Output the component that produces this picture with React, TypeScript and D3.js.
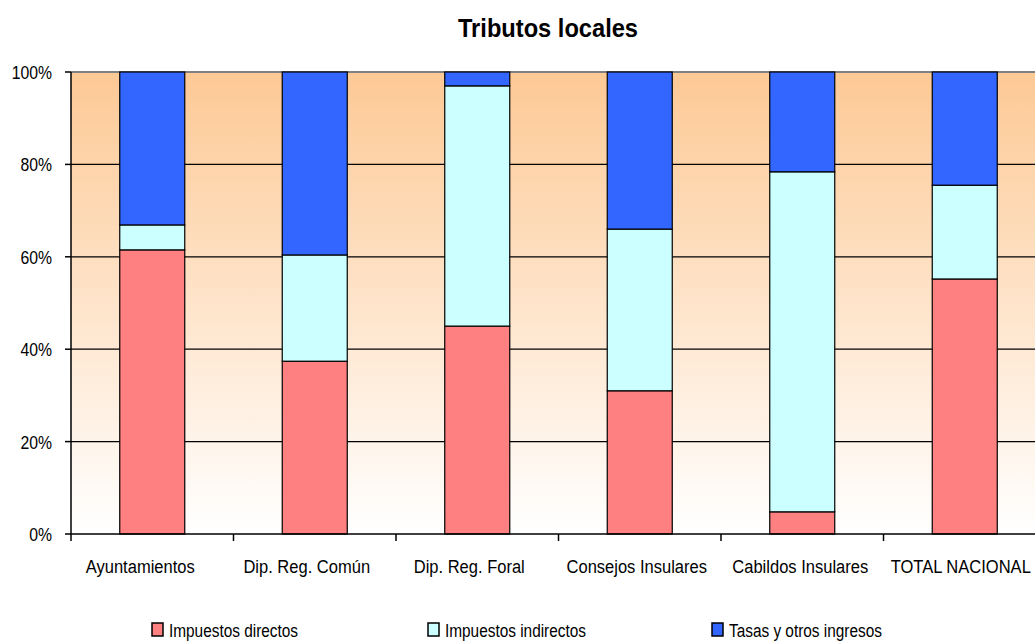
import React from "react";
import * as d3 from "d3";

const categories = ["Ayuntamientos", "Dip. Reg. Común", "Dip. Reg. Foral", "Consejos Insulares", "Cabildos Insulares", "TOTAL NACIONAL"];
const impuestosDirectos = [61.5, 37.4, 45.0, 31.0, 4.8, 55.2];
const impuestosIndirectos = [5.4, 23.0, 52.0, 35.0, 73.6, 20.3];
const tasasOtros = [33.1, 39.6, 3.0, 34.0, 21.6, 24.5];
const yTicks = [0, 20, 40, 60, 80, 100];
const seriesNames = ["Impuestos directos", "Impuestos indirectos", "Tasas y otros ingresos"];
const seriesColors = ["#FF8080", "#CCFFFF", "#3366FF"];

const W = 1035, H = 643;
const left = 71, top = 72, bottom = 534;
const band = 162.5;
const FONT = "'Liberation Sans', Arial, sans-serif";

function NText({ x, y, sx, size, anchor, weight, children }: any) {
  return (
    <text transform={`translate(${x},${y}) scale(${sx},1)`} textAnchor={anchor || "start"} fontSize={size}
      fontWeight={weight || "normal"} fill="#000">{children}</text>
  );
}

export default function App() {
  const x = d3.scaleBand<string>().domain(categories).range([left, left + band * categories.length]).paddingInner(0.6).paddingOuter(0.3);
  const xOuter = d3.scaleBand<string>().domain(categories).range([left, left + band * categories.length]);
  const y = d3.scaleLinear().domain([0, 100]).range([bottom, top]);
  const data = categories.map((c, i) => ({ c, d: impuestosDirectos[i], ind: impuestosIndirectos[i], t: tasasOtros[i] }));
  const stack = d3.stack<any>().keys(["d", "ind", "t"])(data);
  const plotRight = left + band * categories.length;
  const legendX = [152, 428, 712];
  const labelShift = [-12, -8, -8, -3, -2, -4];

  return (
    <svg width={W} height={H} style={{ position: "absolute", left: 0, top: 0 }} fontFamily={FONT}>
      <defs>
        <linearGradient id="bg" x1="0" y1="0" x2="0" y2="1">
          <stop offset="0%" stopColor="#FDC995" />
          <stop offset="100%" stopColor="#FFFFFF" />
        </linearGradient>
      </defs>
      <rect x={0} y={0} width={W} height={H} fill="#fff" />
      <NText x={548} y={37} sx={0.91} size={26} anchor="middle" weight="bold">Tributos locales</NText>
      <rect x={left} y={top} width={plotRight - left} height={bottom - top} fill="url(#bg)" />
      <line x1={left} x2={plotRight} y1={top} y2={top} stroke="#808080" strokeWidth={2} />
      {yTicks.filter(t => t > 0 && t < 100).map(t => (
        <line key={t} x1={left} x2={plotRight} y1={y(t)} y2={y(t)} stroke="#000" strokeWidth={1.2} />
      ))}
      {stack.map((s, si) => (
        <g key={si}>
          {s.map((p, i) => (
            <rect key={i} x={x(categories[i])!} width={x.bandwidth()} y={y(p[1])} height={y(p[0]) - y(p[1])}
              fill={seriesColors[si]} stroke="#000" strokeWidth={1.2} />
          ))}
        </g>
      ))}
      <line x1={left} x2={left} y1={top} y2={bottom} stroke="#000" strokeWidth={1.5} />
      <line x1={left} x2={plotRight} y1={bottom} y2={bottom} stroke="#000" strokeWidth={1.5} />
      {yTicks.map(t => (
        <g key={t}>
          <line x1={left - 6} x2={left} y1={y(t)} y2={y(t)} stroke="#000" strokeWidth={1.5} />
          <NText x={52} y={y(t) + 7} sx={0.83} size={19} anchor="end">{t}%</NText>
        </g>
      ))}
      {categories.map((c, i) => (
        <g key={c}>
          <line x1={xOuter(c)!} x2={xOuter(c)!} y1={bottom} y2={bottom + 7} stroke="#000" strokeWidth={1.5} />
          <NText x={xOuter(c)! + band / 2 + labelShift[i]} y={573} sx={0.87} size={19} anchor="middle">{c}</NText>
        </g>
      ))}
      {seriesNames.map((n, i) => (
        <g key={n}>
          <rect x={legendX[i]} y={623} width={11} height={13} fill={seriesColors[i]} stroke="#000" strokeWidth={1.5} />
          <NText x={legendX[i] + 17} y={637} sx={0.81} size={19}>{n}</NText>
        </g>
      ))}
    </svg>
  );
}
